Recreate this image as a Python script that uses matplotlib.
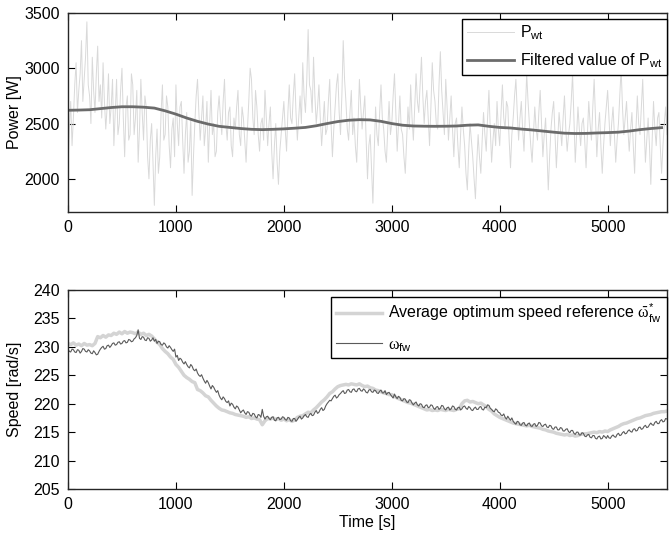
import numpy as np
import matplotlib
matplotlib.use("Agg")
import matplotlib.pyplot as plt

plt.rcParams['font.family'] = ['Liberation Sans', 'DejaVu Sans']
plt.rcParams['mathtext.fontset'] = 'custom'
plt.rcParams['mathtext.rm'] = 'Liberation Sans'
plt.rcParams['mathtext.it'] = 'Liberation Serif'
plt.rcParams['mathtext.default'] = 'regular'

# ---------------- data ----------------
dt_fast = 12.5   # step of the measured power and speed series [s]
dt_ref = 25      # step of the speed reference series [s]
dt_filt = 100    # step of the filtered power series [s]

p_wt = [
    2100, 2450, 2700, 2300, 2550, 2850, 3050, 2600, 2800, 2950, 3250, 2700, 2900, 3100, 3420, 2850,
    2750, 2500, 3100, 2800, 2600, 2950, 3200, 2700, 2850, 2550, 3050, 2700, 2450, 2650, 2950, 2500,
    2650, 2900, 2300, 2600, 2900, 2400, 2500, 2800, 3000, 2550, 2200, 2650, 2750, 2350, 2400, 2950,
    2850, 2400, 2550, 2800, 2150, 2450, 2900, 2600, 2350, 2750, 2650, 2200, 2000, 2350, 2500, 2150,
    1760, 2200, 2450, 2050, 2200, 2600, 2850, 2350, 2400, 2750, 2650, 2300, 2100, 2450, 2550, 2200,
    2850, 2500, 2300, 2650, 2700, 2350, 2050, 2400, 2600, 2150, 2250, 2550, 1850, 2200, 2500, 2750,
    2900, 2600, 2350, 2550, 2750, 2300, 2450, 2700, 2150, 2500, 2800, 2400, 2500, 2200, 2250, 2600,
    2750, 2550, 2400, 2700, 2900, 2500, 2350, 2600, 2650, 2300, 2200, 2550, 2450, 2650, 2800, 2400,
    2300, 2650, 2550, 2350, 2150, 2450, 2700, 3000, 2900, 2550, 2400, 2800, 2650, 2400, 2250, 2500,
    2550, 2350, 2800, 2550, 2300, 2500, 2650, 2250, 2000, 2300, 2500, 2150, 1950, 2250, 2400, 2550,
    2700, 2450, 2250, 2600, 2850, 2550, 2500, 2750, 2950, 2600, 2350, 2550, 2750, 2500, 3050, 2750,
    2600, 2900, 3350, 2850, 2800, 2600, 3100, 2750, 2500, 2650, 2850, 2550, 2300, 2500, 2700, 2400,
    2450, 2700, 2900, 2500, 2200, 2450, 2650, 2850, 2950, 2600, 2400, 2750, 3250, 2900, 2700, 2450,
    2350, 2600, 2800, 2400, 2550, 2300, 2150, 2500, 2900, 2650, 2450, 2600, 2750, 2350, 2000, 2300,
    2400, 2100, 1780, 2250, 2650, 2400, 2300, 2600, 2850, 2550, 2450, 2250, 2150, 2450, 2700, 2400,
    2500, 2750, 2950, 2600, 2250, 2500, 2750, 2450, 2400, 2200, 2050, 2350, 2650, 2450, 2850, 2550,
    2350, 2650, 2950, 2700, 2600, 2850, 3100, 2750, 2500, 2700, 2800, 2550, 2300, 2650, 3050, 2800,
    2700, 2500, 2450, 2850, 3150, 2800, 2600, 2400, 2900, 2650, 2350, 2550, 2750, 2450, 2200, 2500,
    2550, 2300, 2100, 2400, 2650, 2450, 2300, 2050, 1900, 2250, 2500, 2350, 2200, 2000, 1820, 2150,
    2400, 2200, 2050, 2350, 2600, 2400, 2250, 2550, 2800, 2450, 2150, 2350, 2500, 2300, 2700, 2450,
    2300, 2600, 2850, 2550, 2450, 2700, 2650, 2350, 2100, 2400, 2550, 2750, 2900, 2600, 2350, 2550,
    2700, 2450, 2250, 2600, 2950, 2700, 2500, 2300, 2150, 2400, 2650, 2450, 2350, 2600, 2800, 2500,
    2200, 2400, 2550, 2250, 1900, 2200, 2450, 2600, 2700, 2400, 2100, 2350, 2600, 2450, 2300, 2550,
    2750, 2450, 2250, 2400, 2500, 2700, 2950, 2550, 2150, 2400, 2650, 2450, 2300, 2500, 2550, 2350,
    2100, 2400, 2700, 2500, 2350, 2650, 2900, 2550, 2200, 2450, 2600, 2300, 2050, 2300, 2500, 2650,
    2800, 2550, 2300, 2500, 2650, 2400, 2150, 2350, 2500, 2750, 3000, 2650, 2400, 2550, 2700, 2450,
    2250, 2450, 2600, 2300, 2050, 2450, 2750, 2500, 2400, 2650, 2900, 2500, 2150, 2350, 2550, 2300,
    1950, 2350, 2700, 2450, 2300, 2550, 2600, 2300, 2050, 2300, 2500, 2650, 2400,
]

p_filt = [
    2620, 2622, 2625, 2635, 2645, 2652, 2652, 2648, 2640, 2615,
    2585, 2550, 2520, 2495, 2475, 2465, 2455, 2448, 2445, 2448,
    2452, 2458, 2465, 2480, 2500, 2518, 2530, 2535, 2533, 2520,
    2500, 2485, 2478, 2476, 2475, 2476, 2478, 2485, 2488, 2475,
    2465, 2460, 2450, 2442, 2432, 2422, 2413, 2410, 2411, 2415,
    2418, 2422, 2432, 2445, 2455, 2463,
]

w_ref = [
    230.6, 230.4, 230.7, 230.3, 230.5, 230.2, 230.6, 230.3,
    230.4, 230.2, 230.6, 231.8, 231.6, 232.0, 231.7, 232.1,
    232.0, 232.4, 232.2, 232.6, 232.3, 232.7, 232.4, 232.6,
    232.5, 232.3, 232.6, 232.2, 232.4, 232.0, 232.2, 231.9,
    231.4, 230.8, 230.4, 229.7, 229.2, 228.8, 228.2, 227.8,
    226.9, 226.4, 225.7, 225.0, 224.6, 224.3, 223.9, 223.7,
    222.5, 222.3, 221.9, 221.4, 221.2, 220.6, 220.1, 219.6,
    219.2, 218.9, 218.8, 218.6, 218.4, 218.3, 218.1, 218.0,
    217.9, 217.8, 217.6, 217.7, 217.4, 217.5, 217.3, 217.2,
    216.3, 217.0, 217.4, 217.3, 217.5, 217.2, 217.4, 217.1,
    217.3, 217.0, 217.2, 216.9, 217.1, 217.6, 217.8, 217.9,
    218.2, 218.5, 218.4, 218.9, 219.3, 219.8, 220.3, 220.7,
    221.2, 221.8, 222.1, 222.6, 223.0, 223.2, 223.3, 223.4,
    223.3, 223.5, 223.4, 223.3, 223.5, 223.2, 223.0, 223.1,
    222.8, 222.7, 222.4, 222.3, 222.1, 221.9, 221.8, 221.6,
    221.6, 221.3, 221.0, 220.8, 220.6, 220.4, 220.2, 220.1,
    219.9, 219.7, 219.5, 219.3, 219.1, 218.9, 219.0, 218.8,
    218.9, 218.8, 219.0, 218.9, 218.8, 219.0, 218.9, 218.8,
    219.0, 219.1, 220.0, 220.5, 220.6, 220.3, 220.4, 220.2,
    220.0, 220.1, 219.8, 219.5, 219.0, 218.7, 218.2, 217.9,
    217.6, 217.4, 217.2, 217.0, 216.8, 216.6, 216.5, 216.4,
    216.3, 216.2, 216.1, 216.2, 216.0, 215.9, 215.8, 215.7,
    215.5, 215.4, 215.2, 215.1, 215.0, 214.8, 214.7, 214.6,
    214.5, 214.6, 214.4, 214.5, 214.3, 214.4, 214.6, 214.7,
    214.7, 214.8, 214.9, 215.0, 214.9, 215.1, 215.0, 215.2,
    215.1, 215.4, 215.6, 215.8, 216.0, 216.3, 216.5, 216.6,
    216.8, 217.0, 217.2, 217.4, 217.5, 217.7, 217.9, 218.0,
    218.1, 218.3, 218.4, 218.5, 218.6, 218.6, 218.7,
]

w_fw = [
    229.6, 229.2, 229.1, 229.6, 229.5, 229.1, 229.0, 229.5, 229.4, 228.9, 229.2, 229.7, 229.6, 229.2, 229.1, 229.5,
    229.3, 228.9, 228.8, 229.3, 229.0, 228.6, 228.7, 229.2, 229.6, 229.9, 230.1, 229.6, 229.7, 230.2, 230.3, 229.9,
    230.2, 230.6, 230.7, 230.3, 230.4, 230.8, 230.9, 230.5, 230.6, 231.0, 231.1, 230.7, 230.8, 231.3, 231.2, 230.9,
    231.0, 231.4, 231.6, 232.0, 233.0, 231.5, 231.3, 231.8, 231.7, 231.2, 231.1, 231.6, 231.5, 231.0, 231.2, 231.6,
    231.0, 231.3, 230.6, 231.0, 230.9, 230.4, 230.3, 230.7, 230.5, 230.0, 229.8, 230.2, 229.9, 229.5, 229.2, 229.6,
    228.2, 228.5, 227.6, 228.0, 227.8, 227.3, 227.0, 227.4, 226.9, 226.5, 226.3, 226.9, 226.6, 226.0, 225.8, 226.1,
    225.4, 225.0, 224.8, 225.1, 224.5, 224.0, 223.6, 224.1, 223.7, 223.1, 222.6, 223.2, 222.9, 222.4, 222.0, 222.3,
    221.5, 221.0, 220.7, 221.2, 220.9, 220.4, 220.2, 220.5, 219.6, 220.1, 219.9, 219.4, 219.1, 219.6, 219.4, 218.9,
    218.4, 218.7, 218.9, 218.4, 218.1, 218.6, 218.5, 218.0, 217.8, 218.3, 218.2, 217.7, 217.5, 218.1, 218.0, 217.6,
    219.0, 217.8, 217.3, 217.7, 217.8, 217.4, 217.2, 217.6, 217.7, 217.1, 217.0, 217.5, 217.6, 217.2, 217.3, 217.7,
    217.6, 217.2, 217.1, 217.6, 217.5, 217.0, 216.9, 217.4, 217.4, 216.9, 217.2, 217.6, 217.8, 217.3, 217.5, 217.9,
    218.1, 217.7, 217.6, 218.1, 218.3, 217.9, 218.0, 218.5, 218.8, 218.3, 218.5, 219.0, 219.3, 218.8, 219.0, 219.6,
    220.0, 220.3, 220.6, 220.5, 220.9, 221.3, 221.5, 221.0, 221.2, 221.6, 221.8, 222.1, 222.3, 221.8, 221.9, 222.4,
    222.5, 222.1, 222.0, 222.5, 222.6, 222.2, 222.1, 222.6, 222.7, 222.3, 222.2, 222.6, 222.4, 222.0, 221.9, 222.4,
    222.5, 222.1, 222.0, 222.4, 222.3, 221.9, 221.8, 222.2, 222.4, 221.9, 221.9, 222.3, 221.6, 221.9, 222.0, 221.6,
    221.3, 221.0, 221.7, 221.2, 220.9, 221.3, 221.1, 220.6, 220.5, 220.9, 220.8, 220.3, 220.2, 220.7, 220.6, 220.1,
    219.8, 220.1, 220.3, 219.8, 219.6, 220.0, 219.9, 219.4, 219.3, 219.7, 219.8, 219.3, 219.4, 219.8, 219.7, 219.2,
    219.0, 219.4, 219.5, 219.0, 219.2, 219.7, 219.6, 219.1, 218.9, 219.3, 219.4, 218.9, 219.1, 219.6, 219.5, 219.0,
    218.9, 219.3, 219.4, 218.9, 219.1, 219.5, 219.6, 219.2, 219.0, 219.5, 219.3, 218.9, 218.8, 219.2, 219.4, 219.0,
    219.0, 219.4, 219.5, 219.0, 218.9, 219.4, 219.3, 219.8, 219.7, 219.2, 219.0, 218.7, 218.6, 219.1, 218.9, 218.5,
    218.4, 218.0, 217.9, 218.2, 217.6, 217.3, 217.8, 217.4, 217.1, 217.5, 216.9, 216.6, 216.4, 216.9, 216.8, 216.3,
    216.2, 216.6, 216.7, 216.2, 216.1, 216.5, 216.6, 216.1, 216.0, 216.4, 216.5, 216.0, 216.2, 216.7, 216.6, 216.1,
    216.0, 216.3, 216.4, 215.9, 215.8, 216.2, 216.1, 215.6, 215.5, 215.9, 215.9, 215.4, 215.4, 215.8, 215.7, 215.2,
    215.2, 215.5, 215.6, 215.1, 214.9, 215.3, 215.3, 214.8, 214.6, 215.0, 215.0, 214.5, 214.5, 214.9, 214.8, 214.3,
    214.2, 214.5, 214.6, 214.1, 214.0, 214.4, 214.4, 213.9, 213.8, 214.2, 214.3, 213.8, 213.9, 214.4, 214.2, 213.9,
    214.4, 214.0, 213.9, 214.3, 214.5, 214.2, 214.1, 214.6, 214.8, 214.4, 214.5, 214.9, 215.1, 214.7, 214.8, 215.2,
    215.4, 215.1, 215.0, 215.5, 215.6, 215.2, 215.3, 215.8, 215.9, 215.5, 215.6, 216.0, 216.2, 215.8, 215.9, 216.3,
    216.6, 216.3, 216.2, 216.7, 216.9, 216.5, 216.5, 217.0, 217.2, 216.8, 216.9, 217.4, 217.3,
]

x_ticks = [0, 1000, 2000, 3000, 4000, 5000]
p_ticks = [2000, 2500, 3000, 3500]
w_ticks = [205, 210, 215, 220, 225, 230, 235, 240]

t_p = np.arange(len(p_wt)) * dt_fast
t_filt = np.arange(len(p_filt)) * dt_filt
t_ref = np.arange(len(w_ref)) * dt_ref
t_w = np.arange(len(w_fw)) * dt_fast

# ---------------- figure ----------------
fig = plt.figure(figsize=(6.69, 5.36), dpi=100)
W, H = 669, 536
def axrect(l, t, r, b):
    return [l / W, 1 - b / H, (r - l) / W, (b - t) / H]

ax1 = fig.add_axes(axrect(68, 13, 667, 212))
ax2 = fig.add_axes(axrect(68, 290, 667, 489))

fs = 11.5
for ax in (ax1, ax2):
    ax.tick_params(direction='in', top=True, right=True, length=5, width=0.8,
                   labelsize=fs, colors='black', pad=6)
    for s in ax.spines.values():
        s.set_linewidth(1.0)
        s.set_color('#262626')
    ax.set_xlim(0, 5550)
    ax.set_xticks(x_ticks)

ax1.plot(t_p, p_wt, color='#d9d9d9', lw=0.7, label=r'P$_{wt}$')
ax1.plot(t_filt, p_filt, color='#6b6b6b', lw=2.0, label=r'Filtered value of P$_{wt}$')
ax1.set_ylim(1700, 3500)
ax1.set_yticks(p_ticks)
ax1.set_ylabel('Power [W]', fontsize=fs)
ax1.yaxis.set_label_coords(-0.077, 0.5)
leg1 = ax1.legend(loc='upper right', bbox_to_anchor=(1.0, 0.97), fontsize=fs,
                  frameon=True, fancybox=False, framealpha=1, edgecolor='black',
                  handlelength=2.9, handletextpad=0.4, borderpad=0.3,
                  labelspacing=0.55, borderaxespad=0)
leg1.get_frame().set_linewidth(1.0)

ax2.plot(t_ref, w_ref, color='#d4d4d4', lw=2.5,
         label=r'Average optimum speed reference $\bar{\mathit{\omega}}^{*}_{fw}$')
ax2.plot(t_w, w_fw, color='#5a5a5a', lw=0.8, label=r'$\mathit{\omega}_{fw}$')
ax2.set_ylim(205, 240)
ax2.set_yticks(w_ticks)
ax2.set_ylabel('Speed [rad/s]', fontsize=fs)
ax2.yaxis.set_label_coords(-0.077, 0.5)
ax2.set_xlabel('Time [s]', fontsize=fs, labelpad=2)
leg2 = ax2.legend(loc='upper right', bbox_to_anchor=(1.0, 0.965), fontsize=fs,
                  frameon=True, fancybox=False, framealpha=1, edgecolor='black',
                  handlelength=2.9, handletextpad=0.4, borderpad=0.3,
                  labelspacing=0.75, borderaxespad=0)
leg2.get_frame().set_linewidth(1.0)

fig.savefig('out.png', dpi=100)
